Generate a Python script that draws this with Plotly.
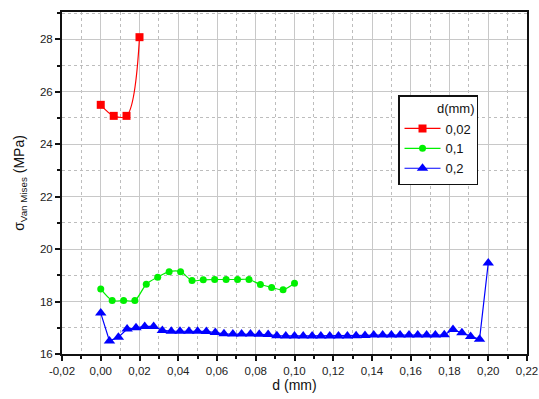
import plotly.graph_objects as go

# Series d = 0,02 mm
x_002 = [0.0, 0.0067, 0.0133, 0.02]
y_002 = [25.50, 25.08, 25.08, 28.08]

# Series d = 0,1 mm
x_01 = [0.0, 0.0059, 0.0118, 0.0176, 0.0235, 0.0294, 0.0353, 0.0412, 0.0471,
        0.0529, 0.0588, 0.0647, 0.0706, 0.0765, 0.0824, 0.0882, 0.0941, 0.1]
y_01 = [18.48, 18.04, 18.04, 18.04, 18.66, 18.93, 19.14, 19.14, 18.80,
        18.83, 18.84, 18.84, 18.84, 18.84, 18.65, 18.54, 18.45, 18.70]

# Series d = 0,2 mm
x_02 = [0.0, 0.0045, 0.0091, 0.0136, 0.0182, 0.0227, 0.0273, 0.0318, 0.0364,
        0.0409, 0.0455, 0.05, 0.0545, 0.0591, 0.0636, 0.0682, 0.0727, 0.0773,
        0.0818, 0.0864, 0.0909, 0.0955, 0.1, 0.1045, 0.1091, 0.1136, 0.1182,
        0.1227, 0.1273, 0.1318, 0.1364, 0.1409, 0.1455, 0.15, 0.1545, 0.1591,
        0.1636, 0.1682, 0.1727, 0.1773, 0.1818, 0.1864, 0.1909, 0.1955, 0.2]
y_02 = [17.56, 16.50, 16.64, 16.95, 17.00, 17.05, 17.05, 16.90, 16.87,
        16.87, 16.87, 16.87, 16.86, 16.82, 16.77, 16.76, 16.76, 16.76,
        16.75, 16.74, 16.70, 16.69, 16.69, 16.69, 16.69, 16.69, 16.69,
        16.69, 16.69, 16.70, 16.71, 16.72, 16.72, 16.72, 16.72, 16.72,
        16.72, 16.72, 16.72, 16.73, 16.93, 16.81, 16.67, 16.56, 19.47]

x_ticks = [-0.02, 0.0, 0.02, 0.04, 0.06, 0.08, 0.10, 0.12, 0.14, 0.16, 0.18, 0.20, 0.22]
x_ticktext = ["-0,02", "0,00", "0,02", "0,04", "0,06", "0,08", "0,10",
              "0,12", "0,14", "0,16", "0,18", "0,20", "0,22"]
y_ticks = [16, 18, 20, 22, 24, 26, 28]

FONT = "Liberation Sans, Arial, sans-serif"

fig = go.Figure()
fig.add_trace(go.Scatter(
    x=x_002, y=y_002, name="0,02", mode="lines+markers",
    line=dict(color="#ff0000", width=1.2, shape="spline", smoothing=1.0),
    marker=dict(symbol="square", size=8, color="#ff0000")))
fig.add_trace(go.Scatter(
    x=x_01, y=y_01, name="0,1", mode="lines+markers",
    line=dict(color="#00f000", width=1.2, shape="spline", smoothing=0.8),
    marker=dict(symbol="circle", size=7, color="#00f000")))
fig.add_trace(go.Scatter(
    x=x_02, y=y_02, name="0,2", mode="lines+markers",
    line=dict(color="#0000ff", width=1.2),
    marker=dict(symbol="triangle-up", size=10, color="#0000ff")))

axis_common = dict(
    showline=True, linecolor="#111111", linewidth=2, mirror=True,
    ticks="outside", ticklen=5, tickwidth=1.5, tickcolor="#111111",
    showgrid=True, gridcolor="#c8c8c8", gridwidth=1,
    zeroline=False, automargin=False,
    tickfont=dict(family=FONT, size=11.5, color="#222222"),
)

fig.update_xaxes(
    range=[-0.02, 0.22], tickvals=x_ticks, ticktext=x_ticktext,
    minor=dict(dtick=0.01, ticks="outside", ticklen=3, tickcolor="#111111",
               showgrid=True, gridcolor="#bdbdbd", griddash="dot", gridwidth=1),
    title=dict(text="d (mm)", font=dict(family=FONT, size=14, color="#111111"), standoff=3),
    **axis_common)
fig.update_yaxes(
    range=[16, 29.04], tickvals=y_ticks,
    minor=dict(dtick=1, ticks="outside", ticklen=3, tickcolor="#111111",
               showgrid=True, gridcolor="#bdbdbd", griddash="dot", gridwidth=1),
    title=dict(text="σ<sub>Van Mises</sub> (MPa)",
               font=dict(family=FONT, size=14, color="#111111"), standoff=12),
    **axis_common)

fig.update_layout(
    width=539, height=399,
    margin=dict(l=62, r=12, t=12, b=45),
    paper_bgcolor="white", plot_bgcolor="white",
    showlegend=True,
    legend=dict(
        x=0.7226, y=0.757, xanchor="left", yanchor="top",
        bgcolor="white", bordercolor="#111111", borderwidth=1.5,
        font=dict(family=FONT, size=13, color="#111111"),
        title=dict(text="d(mm)", side="top right", font=dict(size=13)),
        itemwidth=36, tracegroupgap=0,
    ),
)

fig.write_html("out.html")
